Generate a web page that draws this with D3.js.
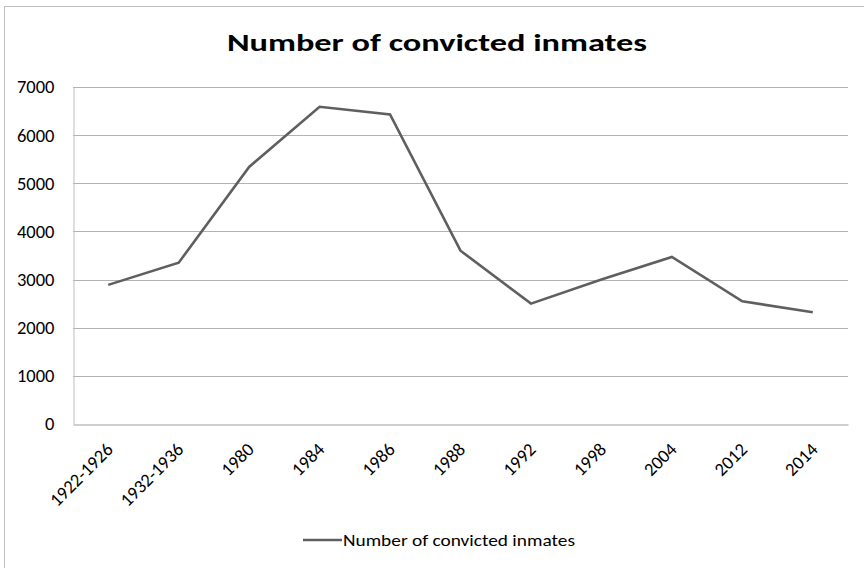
<!DOCTYPE html>
<html>
<head>
<meta charset="utf-8">
<script src="https://cdn.jsdelivr.net/npm/d3@7"></script>
<style>
  html, body { margin: 0; padding: 0; background: #fff; }
  svg { display: block; font-family: Carlito, Lato, "Open Sans", sans-serif; }
</style>
</head>
<body>
<svg id="chart" width="864" height="568"></svg>
<script>
const chartTitle = "Number of convicted inmates";
const seriesName = "Number of convicted inmates";
const categories = ["1922-1926", "1932-1936", "1980", "1984", "1986", "1988", "1992", "1998", "2004", "2012", "2014"];
const inmates = [2890, 3350, 5340, 6590, 6430, 3600, 2500, 3000, 3470, 2550, 2320];
const yTicks = [0, 1000, 2000, 3000, 4000, 5000, 6000, 7000];

const svg = d3.select("#chart");
const plot = { left: 73, right: 848, top: 87, bottom: 424 };
const labelFont = "Carlito, Lato, 'Open Sans', sans-serif";

// outer chart frame (continues past the right and bottom edges)
svg.append("rect")
  .attr("x", 4.5).attr("y", 6.5)
  .attr("width", 900).attr("height", 600)
  .attr("fill", "#fff")
  .attr("stroke", "#bfbfbf").attr("stroke-width", 1);

const x = d3.scaleBand().domain(categories).range([plot.left, plot.right]);
const y = d3.scaleLinear().domain([0, 7000]).range([plot.bottom, plot.top]);

// horizontal gridlines
svg.append("g")
  .selectAll("line")
  .data(yTicks.filter(t => t > 0))
  .join("line")
  .attr("x1", plot.left).attr("x2", plot.right)
  .attr("y1", d => Math.round(y(d)) + 0.5).attr("y2", d => Math.round(y(d)) + 0.5)
  .attr("stroke", "#b3b3b3").attr("stroke-width", 1);

// y axis
const yAxis = svg.append("g")
  .attr("transform", `translate(${plot.left + 0.5},0)`)
  .call(d3.axisLeft(y).tickValues(yTicks).tickSize(0).tickPadding(19).tickFormat(d3.format("d")));
yAxis.select(".domain").attr("stroke", "#bfbfbf").attr("stroke-width", 1);
yAxis.selectAll("text")
  .attr("font-size", 18.5).attr("fill", "#000")
  .attr("font-family", labelFont);

// x axis with labels rotated 45 degrees, ending at each category
const xAxis = svg.append("g")
  .attr("transform", `translate(0,${plot.bottom + 0.5})`)
  .call(d3.axisBottom(x).tickSize(0).tickFormat(d => d));
xAxis.select(".domain").attr("stroke", "#bfbfbf").attr("stroke-width", 1.5);
xAxis.selectAll("text")
  .attr("font-size", 18.5).attr("fill", "#000")
  .attr("font-family", labelFont)
  .attr("text-anchor", "end")
  .attr("x", 0).attr("y", 0).attr("dy", 0)
  .attr("transform", "translate(6,26) rotate(-45)");

// data line
const line = d3.line()
  .x((d, i) => x(categories[i]) + x.bandwidth() / 2)
  .y(d => y(d));

svg.append("path")
  .datum(inmates)
  .attr("d", line)
  .attr("fill", "none")
  .attr("stroke", "#5f5f5f")
  .attr("stroke-width", 2.6)
  .attr("stroke-linejoin", "miter");

// title
svg.append("text")
  .attr("x", 437).attr("y", 51)
  .attr("text-anchor", "middle")
  .attr("font-size", 25).attr("font-weight", "bold").attr("fill", "#000")
  .attr("textLength", 420).attr("lengthAdjust", "spacingAndGlyphs")
  .text(chartTitle);

// legend
const legend = svg.append("g");
legend.append("line")
  .attr("x1", 303).attr("x2", 342)
  .attr("y1", 540).attr("y2", 540)
  .attr("stroke", "#5f5f5f").attr("stroke-width", 2.6);
legend.append("text")
  .attr("x", 343).attr("y", 546)
  .attr("font-size", 17).attr("fill", "#000")
  .attr("textLength", 232).attr("lengthAdjust", "spacingAndGlyphs")
  .text(seriesName);
</script>
</body>
</html>
